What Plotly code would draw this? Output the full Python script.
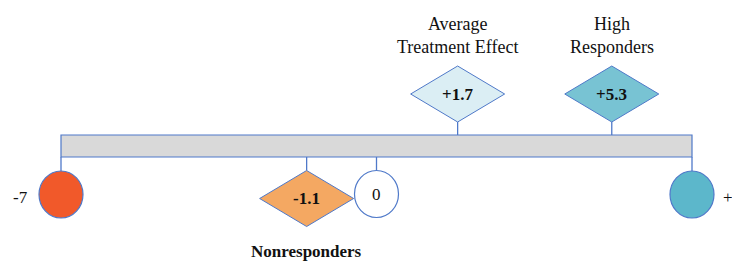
import plotly.graph_objects as go

# ---- data ----
axis_ends = [-7, 7]
end_labels = ["-7", "+"]
end_colors = ["#f1592a", "#5cb7cb"]

zero_value = 0
zero_label = "0"

group_names = ["<b>Nonresponders</b>", "Average<br>Treatment Effect", "High<br>Responders"]
group_values = [-1.1, 1.7, 5.3]
group_labels = ["-1.1", "+1.7", "+5.3"]
group_axis_pos = [-1.55, 1.8, 5.22]   # where each diamond sits on the schematic scale
group_side = ["below", "above", "above"]
group_colors = ["#f4a862", "#dbeef4", "#78c3d3"]

# ---- styling / layout constants ----
W, H = 732, 264
EDGE = "#4f79c9"
FONT = "Liberation Serif"
BAR_TOP, BAR_BOT = 135, 157
px_per_unit = (692 - 61) / 14.0
x_lo = -7 - 61 / px_per_unit
x_hi = 7 + (W - 692) / px_per_unit

fig = go.Figure()
shapes = []
annotations = []

# main bar
shapes.append(dict(type="rect", xref="x", yref="y", x0=axis_ends[0], x1=axis_ends[1],
                   y0=BAR_TOP, y1=BAR_BOT, fillcolor="#d9d9d9",
                   line=dict(color=EDGE, width=1.2), layer="below"))

def connector(xv, y0, y1):
    shapes.append(dict(type="line", xref="x", yref="y", x0=xv, x1=xv, y0=y0, y1=y1,
                       line=dict(color=EDGE, width=1.3)))

def ellipse(xv, yc, rx, ry, fill, shift=0):
    shapes.append(dict(type="circle", xref="x", yref="y", xsizemode="pixel", xanchor=xv,
                       x0=-rx + shift, x1=rx + shift, y0=yc - ry, y1=yc + ry, fillcolor=fill,
                       line=dict(color=EDGE, width=1.2)))

def diamond(xv, yc, hw, hh, fill):
    path = f"M{-hw},{yc} L0,{yc - hh} L{hw},{yc} L0,{yc + hh} Z"
    shapes.append(dict(type="path", xref="x", yref="y", xsizemode="pixel", xanchor=xv,
                       path=path, fillcolor=fill, line=dict(color=EDGE, width=1.0)))

# end circles
for xv, lab, col, shift in zip(axis_ends, end_labels, end_colors, [-41, 36]):
    connector(xv, BAR_BOT, 171)
    ellipse(xv, 194.5, 22, 23.5, col)
    annotations.append(dict(x=xv, y=197, xref="x", yref="y", text=lab, showarrow=False,
                            xshift=shift, font=dict(family=FONT, size=17, color="#111")))

# zero circle
connector(zero_value, BAR_BOT, 170)
ellipse(zero_value, 194, 22, 23.5, "white")
annotations.append(dict(x=zero_value, y=194, xref="x", yref="y", text=zero_label,
                        showarrow=False, font=dict(family=FONT, size=17, color="#111")))

# diamonds
for name, lab, pos, side, col in zip(group_names, group_labels, group_axis_pos,
                                      group_side, group_colors):
    if side == "above":
        yc = 94
        connector(pos, yc + 28, BAR_TOP)
        ty, fs = 35, 18
    else:
        yc = 198.5
        connector(pos, BAR_BOT, yc - 28)
        ty, fs = 251, 17
    diamond(pos, yc, 47, 28, col)
    annotations.append(dict(x=pos, y=yc, xref="x", yref="y", text=f"<b>{lab}</b>",
                            showarrow=False, font=dict(family=FONT, size=17, color="#111")))
    annotations.append(dict(x=pos, y=ty, xref="x", yref="y", text=name, showarrow=False,
                            font=dict(family=FONT, size=fs, color="#111"),
                            yanchor="middle"))

fig.update_layout(
    width=W, height=H,
    margin=dict(l=0, r=0, t=0, b=0),
    paper_bgcolor="white", plot_bgcolor="white",
    shapes=shapes, annotations=annotations,
    xaxis=dict(range=[x_lo, x_hi], visible=False, fixedrange=True),
    yaxis=dict(range=[H, 0], visible=False, fixedrange=True),
    showlegend=False,
)

fig.write_html("out.html", config={"displayModeBar": False},
               post_script="document.body.style.margin='0';document.body.style.overflow='hidden';")
